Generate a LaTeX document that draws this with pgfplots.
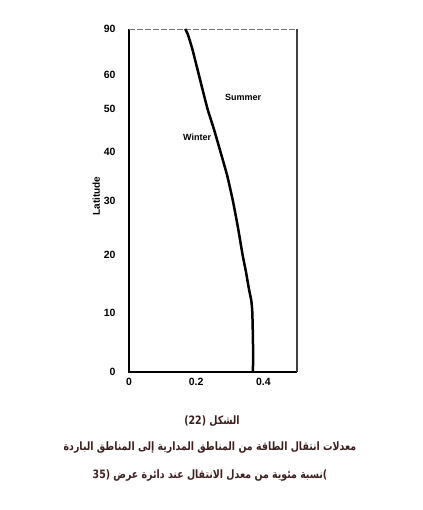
\documentclass[border=0pt]{standalone}
\usepackage{pgfplots}
\pgfplotsset{compat=1.18}
\usepackage{graphicx}
\usepackage{fontspec}
\setmainfont{Liberation Sans}
\newfontfamily\arabicfont[Script=Arabic]{DejaVu Sans}
\TeXXeTstate=1
\definecolor{captioncol}{HTML}{3D1F1F}

% Energy transfer from the tropics to the cold regions,
% as a fraction of the transfer at latitude 35 (winter curve).
\pgfplotstableread{
lat  frac
0    0.369
5    0.369
10   0.367
12   0.364
14   0.357
17   0.348
20   0.338
25   0.324
30   0.309
35   0.292
40   0.272
45   0.253
50   0.234
55   0.220
60   0.208
70   0.189
80   0.175
90   0.167
}\transfer

\newcommand{\captionline}[1]{\scalebox{0.82}[1]{\arabicfont\bfseries\fontsize{11.5}{14}\selectfont #1}}

\begin{document}
\begin{tikzpicture}
\useasboundingbox (0pt,0pt) rectangle (422pt,-510pt);
\begin{axis}[
  at={(129pt,-372pt)}, anchor=origin,
  scale only axis, width=168pt, height=343pt,
  xmin=0, xmax=0.5, ymin=0, ymax=90,
  % latitude axis drawn on a sine (area-true) scale
  y coord trafo/.code={\pgfmathparse{sin(#1)}},
  y coord inv trafo/.code={\pgfmathparse{asin(#1)}},
  xtick={0,0.2,0.4}, xticklabels={0,0.2,0.4},
  ytick={0,10,20,30,40,50,60,90},
  yticklabels={0,10,20,30,40,50,60,90},
  major tick length=0pt,
  axis line style={draw=none},
  tick label style={font=\bfseries\fontsize{10.5}{12}\selectfont},
  /pgf/number format/assume math mode=true,
  xticklabel style={yshift=-3pt},
  yticklabel style={xshift=-10pt},
  clip=false,
]
  % frame
  \draw[black, line width=1.8pt] (rel axis cs:0,1) -- (rel axis cs:0,0) -- (rel axis cs:1,0);
  \draw[black!55, line width=0.9pt, dash pattern=on 6pt off 2pt] (rel axis cs:0,1) -- (rel axis cs:1,1);
  \draw[black!75, line width=2.6pt] (rel axis cs:1,0) -- (rel axis cs:1,1);
  \addplot[black, line width=2.5pt, smooth, tension=0.3] table[x=frac, y=lat] {\transfer};
  \node[font=\bfseries\fontsize{9}{10}\selectfont] at (rel axis cs:0.405,0.685) {Winter};
  \node[font=\bfseries\fontsize{9}{10}\selectfont] at (rel axis cs:0.679,0.802) {Summer};
  \node[rotate=90, inner sep=0pt, font=\bfseries\fontsize{10}{12}\selectfont] at (rel axis cs:-0.195,0.513) {Latitude};
\end{axis}
\node[text=captioncol] at (212pt,-421pt)
  {\captionline{\beginR الشكل \beginL(22)\endL\endR}};
\node[text=captioncol] at (210pt,-448pt)
  {\captionline{\beginR معدلات انتقال الطاقة من المناطق المدارية إلى المناطق الباردة\endR}};
\node[text=captioncol] at (210pt,-476pt)
  {\captionline{\beginR\beginL)\endL{}نسبة مئوية من معدل الانتقال عند دائرة عرض \beginL(35\endL\endR}};
\end{tikzpicture}
\end{document}
